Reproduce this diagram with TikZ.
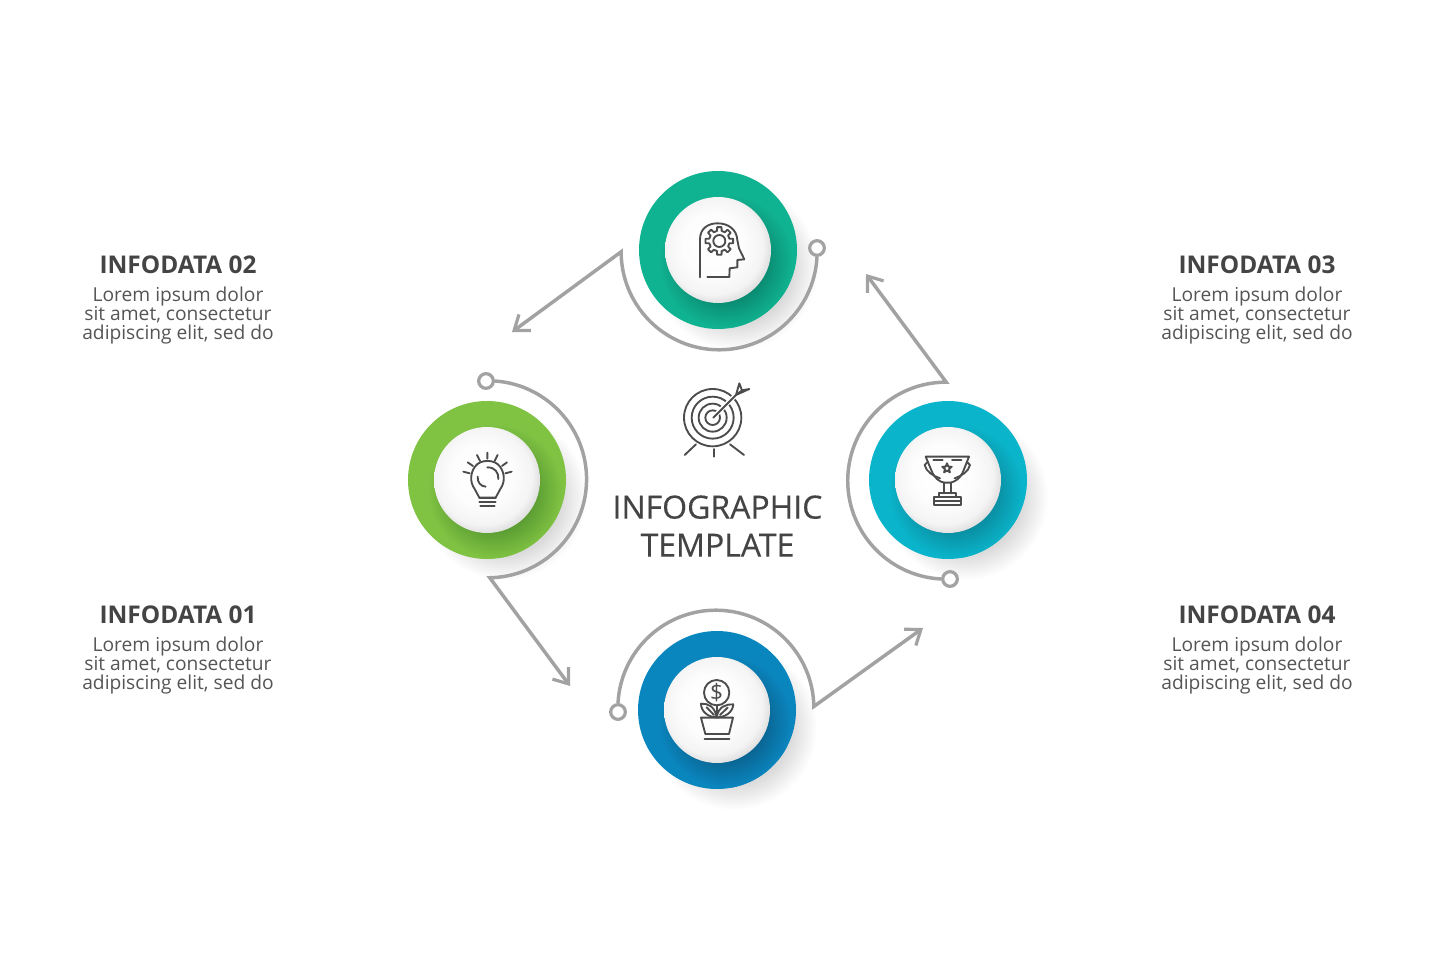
\documentclass[tikz,border=0pt]{standalone}
\usepackage{fontspec}
\setmainfont{Open Sans}
\newfontfamily\titlefont[FakeBold=0.35]{Open Sans}
\usetikzlibrary{arrows.meta}
\definecolor{ringT}{HTML}{10B391}\definecolor{darkT}{HTML}{0A8C72}
\definecolor{ringL}{HTML}{80C242}\definecolor{darkL}{HTML}{5C9E33}
\definecolor{ringB}{HTML}{0A86BF}\definecolor{darkB}{HTML}{0A6694}
\definecolor{ringR}{HTML}{0AB4CA}\definecolor{darkR}{HTML}{0A8FA3}
\definecolor{conngray}{HTML}{A2A2A2}
\definecolor{icongray}{HTML}{4C4C4C}
\definecolor{titlegray}{HTML}{444444}
\definecolor{bodygray}{HTML}{555555}
\definecolor{softgray}{HTML}{DADADA}
\pgfdeclareradialshading{shT}{\pgfpointorigin}{color(0bp)=(darkT);color(15bp)=(darkT);color(25bp)=(ringT);color(50bp)=(ringT)}
\pgfdeclareradialshading{shL}{\pgfpointorigin}{color(0bp)=(darkL);color(15bp)=(darkL);color(25bp)=(ringL);color(50bp)=(ringL)}
\pgfdeclareradialshading{shB}{\pgfpointorigin}{color(0bp)=(darkB);color(15bp)=(darkB);color(25bp)=(ringB);color(50bp)=(ringB)}
\pgfdeclareradialshading{shR}{\pgfpointorigin}{color(0bp)=(darkR);color(15bp)=(darkR);color(25bp)=(ringR);color(50bp)=(ringR)}
\pgfdeclareradialshading{softshadow}{\pgfpointorigin}{color(0bp)=(softgray);color(17bp)=(softgray);color(25bp)=(white);color(50bp)=(white)}
\definecolor{ballA}{HTML}{FDFDFD}\definecolor{ballB}{HTML}{F4F4F4}\definecolor{ballC}{HTML}{CFCFCF}
\pgfdeclareradialshading{ballshade}{\pgfpoint{-3.5bp}{3.5bp}}{color(0bp)=(white);color(14bp)=(ballA);color(23bp)=(ballB);color(30bp)=(ballC);color(50bp)=(ballC)}
\tikzset{
  ringnode/.style={circle,inner sep=0pt,minimum size=118.5pt},
  ballnode/.style={circle,inner sep=0pt,minimum size=79.5pt,shading=ballshade},
  dotnode/.style={circle,inner sep=0pt,minimum size=11pt,draw=conngray,line width=2.4pt,fill=white},
  conn/.style={draw=conngray,line width=2.6pt,line join=miter,-{Straight Barb[length=10pt,width=15pt,line width=2.4pt]}},
  iconline/.style={draw=icongray,line width=1.4pt,line cap=round,line join=round},
  maintitle/.style={font=\titlefont\fontsize{24}{28.5}\selectfont,text=titlegray,align=center,inner sep=0pt},
  blocktitle/.style={font=\bfseries\fontsize{18.3}{21}\selectfont,text=titlegray,inner sep=0pt},
  blockbody/.style={font=\fontsize{14.4}{14.6}\selectfont,text=bodygray,align=center,inner sep=0pt},
}
\newcommand{\ringball}[3]{%
  \shade[shading=softshadow] (#2+17,#3+17) circle[radius=83];
}
\newcommand{\ringtop}[3]{%
  \node[ringnode,fill=ring#1] (ring#1) at (#2,#3) {};
  \begin{scope}
    \clip (#2,#3) circle[radius=79];
    \shade[shading=sh#1] (#2+8,#3+11) circle[radius=67];
  \end{scope}
  \node[ballnode] (ball#1) at (#2,#3) {};
}
\begin{document}
\begin{tikzpicture}[x=0.75pt,y=-0.75pt]
\useasboundingbox (0,0) rectangle (1435,980);
\fill[white] (0,0) rectangle (1435,980);

\ringball{T}{718}{250}
\ringball{L}{487}{480}
\ringball{B}{717}{710}
\ringball{R}{948}{480}

% connectors
\node[dotnode] (dotT) at (817,248) {};
\node[dotnode] (dotL) at (486,381) {};
\node[dotnode] (dotB) at (618,712) {};
\node[dotnode] (dotR) at (950,579) {};
\coordinate (tipT) at (512,332);
\coordinate (tipL) at (570,686);
\coordinate (tipB) at (923,628);
\coordinate (tipR) at (866,274);
\draw[conn] (dotT.south) arc[start angle=3,end angle=180,radius=98] -- (tipT);
\draw[conn] (dotL.east) arc[start angle=-86,end angle=89,radius=98.5] -- (tipL);
\draw[conn] (dotB.north) arc[start angle=183,end angle=359,radius=98] -- (tipB);
\draw[conn] (dotR.west) arc[start angle=93,end angle=270,radius=98.5] -- (tipR);

\ringtop{T}{718}{250}
\ringtop{L}{487}{480}
\ringtop{B}{717}{710}
\ringtop{R}{948}{480}

% head icon
\begin{scope}[shift={(600,160)},scale=0.3333]
  \draw[iconline] (300,352) -- (300,238) .. controls (300,205) and (325,190) .. (352,190)
     .. controls (385,190) and (410,208) .. (412,240) -- (417,265) -- (433,298) -- (412,300)
     -- (412,322) -- (389,325) -- (388,351) -- (322,351);
  \draw[iconline] foreach \a in {0,45,...,315}{
     (358,243) +(\a-9:42) -- +(\a+9:42) -- +(\a+13:31) -- +(\a+32:31) -- +(\a+36:42)};
  \draw[iconline] (358,243) circle[radius=18];
\end{scope}

% bulb icon
\begin{scope}[shift={(400,365)},scale=0.3333]
  \draw[iconline] (224,372) .. controls (208,350) and (212,322) .. (225,305)
     .. controls (240,282) and (285,282) .. (300,305)
     .. controls (313,322) and (317,350) .. (301,372) -- (287,398) -- (238,398) -- cycle;
  \draw[iconline] (238,398) -- (287,398) (238,410) -- (287,410) (241,422) -- (284,422);
  \draw[iconline] (262,307) .. controls (285,307) and (296,322) .. (295,342);
  \draw[iconline] (233,335) .. controls (232,352) and (242,364) .. (257,365);
  \draw[iconline] (262,263) -- (262,281) (293,270) -- (284,288) (321,292) -- (306,303)
     (335,320) -- (316,325) (231,270) -- (240,288) (203,292) -- (219,303) (190,320) -- (209,325);
\end{scope}

% plant icon
\begin{scope}[shift={(600,600)},scale=0.3333]
  \draw[iconline] (350,278) circle[radius=38];
  \draw[iconline] (350,316) -- (350,353);
  \draw[iconline] (350,352) .. controls (345,320) and (325,310) .. (303,311)
     .. controls (303,335) and (325,352) .. (350,352);
  \draw[iconline] (350,352) .. controls (355,320) and (378,312) .. (400,313)
     .. controls (398,338) and (375,352) .. (350,352);
  \draw[iconline] (320,322) -- (342,345) (383,323) -- (360,345);
  \draw[iconline] (303,353) -- (399,353) -- (387,402) -- (316,402) -- cycle;
  \draw[iconline] (314,418) -- (388,418);
  \node[font=\fontsize{17}{17}\selectfont,text=icongray,inner sep=0pt] (dollar) at (350,278) {\$};
\end{scope}

% trophy icon
\begin{scope}[shift={(840,370)},scale=0.3333]
  \draw[iconline] (257,260) -- (387,260) -- (368,308) .. controls (360,325) and (345,335) .. (332,338)
     -- (312,338) .. controls (298,335) and (285,325) .. (277,308) -- cycle;
  \draw[iconline] (264,275) -- (254,285) .. controls (258,305) and (280,318) .. (300,325);
  \draw[iconline] (380,275) -- (390,285) .. controls (386,305) and (364,318) .. (344,325);
  \draw[iconline] (280,269) -- (308,269) (336,269) -- (364,269);
  \draw[iconline] (321,295) +(-90:15) -- +(-54:6.5) -- +(-18:15) -- +(18:6.5) -- +(54:15)
     -- +(90:6.5) -- +(126:15) -- +(162:6.5) -- +(198:15) -- +(234:6.5) -- cycle;
  \draw[iconline] (312,338) -- (312,370) (332,338) -- (332,370);
  \draw[iconline] (296,370) -- (348,370) -- (348,380) -- (296,380) -- cycle;
  \draw[iconline] (282,380) -- (362,380) -- (362,405) -- (282,405) -- cycle (282,394) -- (362,394);
\end{scope}

% target icon
\begin{scope}[shift={(670,375)},scale=0.3333]
  \draw[iconline] (128,128) circle[radius=86] circle[radius=63] circle[radius=42] circle[radius=22];
  \draw[white,line width=3.5pt] (135,122) -- (195,62);
  \draw[iconline] (130,128) -- (198,60);
  \draw[iconline] (198,60) -- (208,25) -- (216,46) -- (238,42) -- (198,60) (216,46) -- (198,60);
  \draw[iconline] (78,208) -- (44,240) (132,222) -- (132,245) (180,208) -- (222,240);
\end{scope}

% centre title
\node[maintitle] (centretitle) at (717.5,526) {INFOGRAPHIC\\TEMPLATE};

% text blocks
\node[blocktitle] (t2) at (178,265) {INFODATA 02};
\node[blockbody]  (b2) at (178,315.5) {Lorem ipsum dolor\\sit amet, consectetur\\adipiscing elit, sed do};
\node[blocktitle] (t1) at (178,615) {INFODATA 01};
\node[blockbody]  (b1) at (178,665.5) {Lorem ipsum dolor\\sit amet, consectetur\\adipiscing elit, sed do};
\node[blocktitle] (t3) at (1257,265) {INFODATA 03};
\node[blockbody]  (b3) at (1257,315.5) {Lorem ipsum dolor\\sit amet, consectetur\\adipiscing elit, sed do};
\node[blocktitle] (t4) at (1257,615) {INFODATA 04};
\node[blockbody]  (b4) at (1257,665.5) {Lorem ipsum dolor\\sit amet, consectetur\\adipiscing elit, sed do};
\end{tikzpicture}
\end{document}
